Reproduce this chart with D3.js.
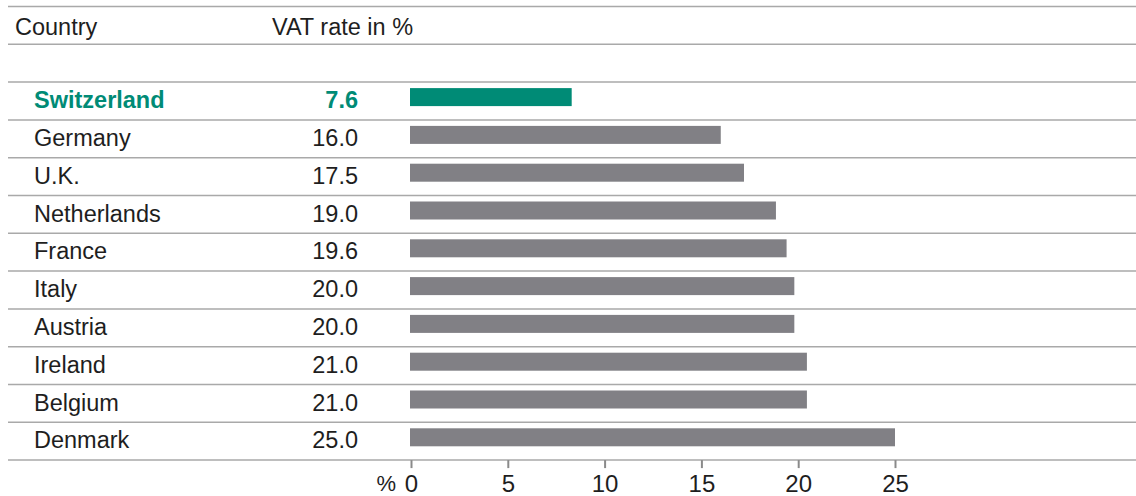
<!DOCTYPE html>
<html>
<head>
<meta charset="utf-8">
<script src="https://cdn.jsdelivr.net/npm/d3@7"></script>
<style>
  body { margin: 0; background: #fff; }
  svg { display: block; font-family: "Liberation Sans", Arial, Helvetica, sans-serif; }
</style>
</head>
<body>
<svg id="chart" width="1136" height="496"></svg>
<script>
// data
const countries  = ["Switzerland", "Germany", "U.K.", "Netherlands", "France", "Italy", "Austria", "Ireland", "Belgium", "Denmark"];
const rateLabels = ["7.6", "16.0", "17.5", "19.0", "19.6", "20.0", "20.0", "21.0", "21.0", "25.0"];
// bar lengths as drawn (in axis units), they don't quite match the printed rates
const barValues  = [8.3, 16.0, 17.2, 18.85, 19.4, 19.8, 19.8, 20.45, 20.45, 25.0];
const xTicks     = [0, 5, 10, 15, 20, 25];
const highlight  = "Switzerland";

const W = 1136, H = 496;
const pitch = 37.8;        // row height
const top0  = 6.5;         // first rule
const firstRow = top0 + pitch * 2;
const lineColor = "#a9a9a9";
const textColor = "#1e1e1e";
const green = "#008b76";
const grey  = "#818085";
const fontSize = 23.5;

const svg = d3.select("#chart");

const x = d3.scaleLinear().domain([0, 25]).range([411, 895]);
const y = d3.scaleBand().domain(countries)
  .range([firstRow, firstRow + pitch * countries.length]);

// horizontal rules
const rules = d3.range(0, countries.length + 3).map(k => top0 + k * pitch);
svg.append("g").selectAll("line")
  .data(rules)
  .enter().append("line")
    .attr("x1", 8).attr("x2", W)
    .attr("y1", d => d).attr("y2", d => d)
    .attr("stroke", lineColor)
    .attr("stroke-width", 1.5);

// header
svg.append("text")
  .attr("x", 15).attr("y", top0 + 28.5)
  .attr("font-size", fontSize)
  .attr("fill", textColor)
  .text("Country");

svg.append("text")
  .attr("x", 272).attr("y", top0 + 28.5)
  .attr("font-size", fontSize)
  .attr("fill", textColor)
  .text("VAT rate in %");

// rows
const rows = svg.append("g").selectAll("g")
  .data(countries)
  .enter().append("g");

rows.append("text")
  .attr("x", 34)
  .attr("y", d => y(d) + 26)
  .attr("font-size", fontSize)
  .attr("font-weight", d => d === highlight ? "bold" : "normal")
  .attr("fill", d => d === highlight ? green : textColor)
  .text(d => d);

rows.append("text")
  .attr("x", 358)
  .attr("y", d => y(d) + 26)
  .attr("text-anchor", "end")
  .attr("font-size", fontSize)
  .attr("font-weight", d => d === highlight ? "bold" : "normal")
  .attr("fill", d => d === highlight ? green : textColor)
  .text((d, i) => rateLabels[i]);

rows.append("rect")
  .attr("x", x(0) - 1)
  .attr("y", d => y(d) + 6)
  .attr("width", (d, i) => x(barValues[i]) - x(0) + 1)
  .attr("height", 18)
  .attr("fill", d => d === highlight ? green : grey);

// x axis
const axisY = firstRow + pitch * countries.length;
const axis = svg.append("g")
  .attr("transform", `translate(0,${axisY})`)
  .call(d3.axisBottom(x).tickValues(xTicks).tickSize(8).tickSizeOuter(0).tickPadding(7));

axis.select(".domain").remove();
axis.selectAll(".tick line")
  .attr("stroke", "#8a8a8a")
  .attr("stroke-width", 2);
axis.selectAll(".tick text")
  .attr("font-size", 24)
  .attr("font-family", "Liberation Sans, Arial, sans-serif")
  .attr("fill", textColor);

svg.append("text")
  .attr("x", 396)
  .attr("y", axisY + 15)
  .attr("dy", "0.71em")
  .attr("text-anchor", "end")
  .attr("font-size", 22)
  .attr("fill", textColor)
  .text("%");
</script>
</body>
</html>
